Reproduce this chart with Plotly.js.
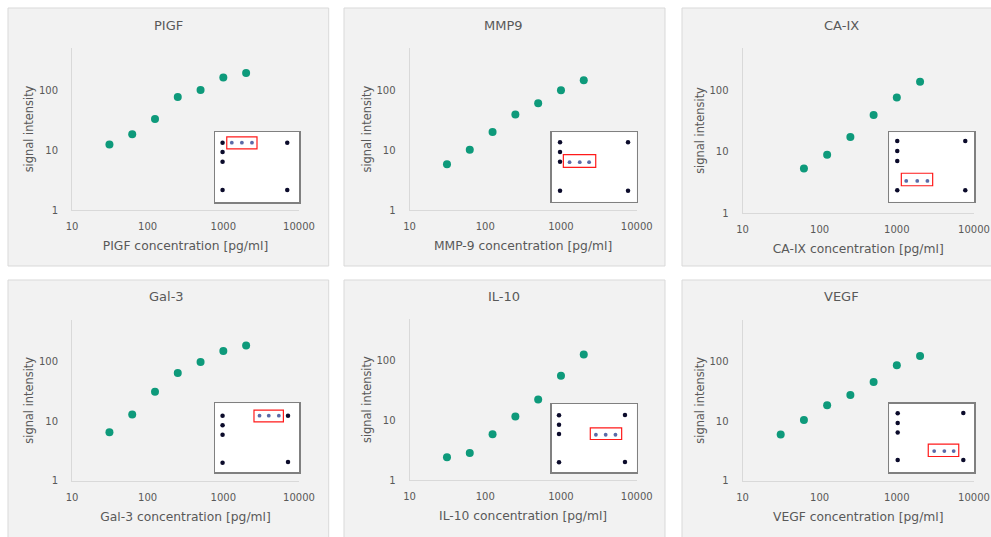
<!DOCTYPE html>
<html>
<head>
<meta charset="utf-8">
<script src="https://cdn.plot.ly/plotly-3.0.1.min.js"></script>
<style>html,body{margin:0;padding:0;background:#fff;}#chart{width:991px;height:537px;}</style>
</head>
<body>
<div id="chart"></div>
<script>
// ---- data ----
const panelNames = ["PIGF", "MMP9", "CA-IX", "Gal-3", "IL-10", "VEGF"];
const xTitles = ["PIGF concentration [pg/ml]", "MMP-9 concentration [pg/ml]", "CA-IX concentration [pg/ml]",
                 "Gal-3 concentration [pg/ml]", "IL-10 concentration [pg/ml]", "VEGF concentration [pg/ml]"];
const concFull = [31.25, 62.5, 125, 250, 500, 1000, 2000];
const concCAIX = [62.5, 125, 250, 500, 1000, 2000];
const sigPIGF = [12.4, 18.3, 32.9, 76.4, 100, 162, 192];
const sigMMP9 = [5.8, 10.1, 20, 39.4, 60.7, 100, 147];
const sigCAIX = [5.4, 9.0, 17.6, 40, 77, 140];
const sigGal3 = [6.5, 12.9, 31.3, 64.6, 99, 151, 186];
const sigIL10 = [2.39, 2.82, 5.8, 11.5, 22.1, 54.7, 124];
const sigVEGF = [6.0, 10.5, 18.5, 27.6, 45.4, 87, 125];
const xTickVals = [10, 100, 1000, 10000];
const xTickText = ["10", "100", "1000", "10000"];
const yTickVals = [1, 10, 100];
const yTickText = ["1", "10", "100"];

// array-image insets: reference spots (black) and analyte spots (blue), box around analyte
const refSpotX = [
  [0.09, 0.09, 0.09, 0.09, 0.86, 0.86],
  [0.098, 0.098, 0.098, 0.098, 0.898, 0.898],
  [0.094, 0.094, 0.094, 0.094, 0.897, 0.897],
  [0.09, 0.09, 0.09, 0.09, 0.869, 0.869],
  [0.086, 0.086, 0.086, 0.086, 0.862, 0.862],
  [0.099, 0.099, 0.099, 0.099, 0.874, 0.874]];
const refSpotY = [
  [0.847, 0.714, 0.576, 0.171, 0.847, 0.171],
  [0.856, 0.716, 0.576, 0.159, 0.856, 0.159],
  [0.875, 0.73, 0.587, 0.164, 0.875, 0.164],
  [0.82, 0.68, 0.543, 0.136, 0.82, 0.146],
  [0.834, 0.697, 0.56, 0.146, 0.839, 0.15],
  [0.86, 0.72, 0.58, 0.18, 0.865, 0.18]];
const anaSpotX = [
  [0.20, 0.32, 0.44], [0.21, 0.33, 0.44], [0.20, 0.33, 0.45],
  [0.53, 0.64, 0.76], [0.52, 0.635, 0.75], [0.53, 0.65, 0.76]];
const anaSpotY = [0.847, 0.57, 0.30, 0.82, 0.55, 0.31];
const boxX0 = [0.14, 0.137, 0.142, 0.464, 0.454, 0.46];
const boxX1 = [0.50, 0.518, 0.512, 0.814, 0.823, 0.82];
const boxY0 = [0.76, 0.496, 0.23, 0.73, 0.48, 0.23];
const boxY1 = [0.93, 0.677, 0.41, 0.90, 0.65, 0.41];

const concs = [concFull, concFull, concCAIX, concFull, concFull, concFull];
const sigs = [sigPIGF, sigMMP9, sigCAIX, sigGal3, sigIL10, sigVEGF];

// ---- layout geometry (pixels) ----
const W = 991, H = 537;
const fx = p => p / W, fy = p => 1 - p / H;
const panelBox = [
  [8, 328.7, 8, 266], [344, 665, 8, 266], [682, 1010, 8, 266],
  [8, 328.7, 280, 545], [344, 665, 280, 545], [682, 1010, 280, 545]];
const axBox = [ // x0, x1, ybottom, ytop, yTopLog
  [72, 299, 210, 48, 2.7], [409.5, 636.7, 210, 48.3, 2.7], [742.5, 974, 213.3, 47.7, 2.7],
  [72, 299, 480.7, 320, 2.7], [409.5, 636.7, 480, 319.3, 2.68], [742.5, 974, 480.7, 320, 2.7]];
const insetBox = [
  [215, 299, 132, 202], [551.7, 636.7, 132.3, 201.7], [889.3, 974, 132.3, 201.7],
  [215, 299, 403.3, 472], [551.7, 636.7, 404, 472.3], [889.3, 974, 403.7, 472.3]];
const titleX = [168, 503.5, 841.7, 166.7, 504.3, 841.7];
const titleY = [25, 25, 25, 296.7, 296.7, 296.7];

const FONT = "'DejaVu Sans', sans-serif";
const TXT = "#595959";
const traces = [], shapes = [], annotations = [];
const layout = {
  width: W, height: H, margin: {l: 0, r: 0, t: 0, b: 0},
  paper_bgcolor: "#ffffff", plot_bgcolor: "rgba(0,0,0,0)",
  showlegend: false, font: {family: FONT, color: TXT, size: 10}
};

for (let i = 0; i < 6; i++) {
  const pb = panelBox[i];
  shapes.push({type: "rect", xref: "paper", yref: "paper", layer: "below",
    x0: fx(pb[0]), x1: fx(pb[1]), y0: fy(pb[3]), y1: fy(pb[2]),
    fillcolor: "#f2f2f2", line: {color: "#d9d9d9", width: 1}});
}

for (let i = 0; i < 6; i++) {
  const n = i + 1;
  const xa = n === 1 ? "xaxis" : "xaxis" + n, ya = n === 1 ? "yaxis" : "yaxis" + n;
  const xr = n === 1 ? "x" : "x" + n, yr = n === 1 ? "y" : "y" + n;
  const ab = axBox[i];
  layout[xa] = {
    type: "log", domain: [fx(ab[0]), fx(ab[1])], range: [1, 4], anchor: yr,
    showgrid: false, zeroline: false, showline: true, linecolor: "#d9d9d9", linewidth: 1,
    ticks: "", tickvals: xTickVals, ticktext: xTickText, ticklabelstandoff: 7,
    tickfont: {family: FONT, size: 10, color: TXT},
    title: {text: xTitles[i], font: {family: FONT, size: 12.3, color: TXT}, standoff: 10},
    fixedrange: true
  };
  layout[ya] = {
    type: "log", domain: [fy(ab[2]), fy(ab[3])], range: [0, ab[4]], anchor: xr,
    showgrid: false, zeroline: false, showline: true, linecolor: "#d9d9d9", linewidth: 1,
    ticks: "", tickvals: yTickVals, ticktext: yTickText, ticklabelstandoff: 11,
    tickfont: {family: FONT, size: 10, color: TXT},
    title: {text: "signal intensity", font: {family: FONT, size: 11.4, color: TXT}, standoff: 2},
    fixedrange: true
  };
  traces.push({type: "scatter", mode: "markers", x: concs[i], y: sigs[i], xaxis: xr, yaxis: yr,
    marker: {color: "#0e9a7b", size: 8}, hoverinfo: "x+y"});
  annotations.push({xref: "paper", yref: "paper", x: fx(titleX[i]),
    y: fy(titleY[i]), text: panelNames[i], showarrow: false, xanchor: "center", yanchor: "middle",
    font: {family: FONT, size: 13, color: TXT}});

  // inset
  const m = i + 7;
  const ixa = "xaxis" + m, iya = "yaxis" + m, ixr = "x" + m, iyr = "y" + m;
  const ib = insetBox[i];
  layout[ixa] = {domain: [fx(ib[0]), fx(ib[1])], range: [0, 1], anchor: iyr,
    showgrid: false, zeroline: false, showticklabels: false, ticks: "",
    showline: true, mirror: true, linecolor: "#808080", linewidth: 1.5, fixedrange: true};
  layout[iya] = {domain: [fy(ib[3]), fy(ib[2])], range: [0, 1], anchor: ixr,
    showgrid: false, zeroline: false, showticklabels: false, ticks: "",
    showline: true, mirror: true, linecolor: "#808080", linewidth: 1.5, fixedrange: true};
  shapes.push({type: "rect", xref: ixr + " domain", yref: iyr + " domain", layer: "below",
    x0: 0, x1: 1, y0: 0, y1: 1, fillcolor: "#ffffff", line: {width: 0}});
  shapes.push({type: "rect", xref: ixr, yref: iyr, layer: "above",
    x0: boxX0[i], x1: boxX1[i], y0: boxY0[i], y1: boxY1[i],
    fillcolor: "rgba(0,0,0,0)", line: {color: "#ff1a1a", width: 1.2}});
  traces.push({type: "scatter", mode: "markers", x: refSpotX[i], y: refSpotY[i], xaxis: ixr, yaxis: iyr,
    marker: {color: "#0b0b2b", size: 4.5}, hoverinfo: "skip"});
  traces.push({type: "scatter", mode: "markers", x: anaSpotX[i], y: anaSpotX[i].map(() => anaSpotY[i]),
    xaxis: ixr, yaxis: iyr, marker: {color: "#5a6aa8", size: 3.8}, hoverinfo: "skip"});
}
layout.shapes = shapes;
layout.annotations = annotations;
Plotly.newPlot("chart", traces, layout, {staticPlot: true, displayModeBar: false});
</script>
</body>
</html>
